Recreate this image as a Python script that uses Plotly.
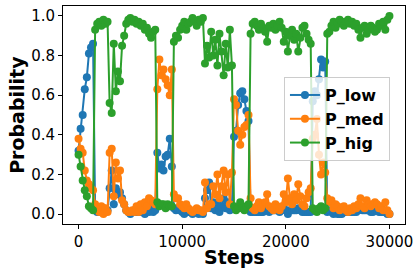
import plotly.graph_objects as go

steps = [200 * i for i in range(151)]

p_low = [
    0.32, 0.43, 0.50, 0.63, 0.69, 0.81, 0.84, 0.86,
    0.02, 0.01, 0.02, 0.01, 0.03, 0.01, 0.02,
    0.13, 0.22, 0.05, 0.13, 0.10, 0.11, 0.08, 0.05, 0.02, 0.01, 0.00,
    0.01, 0.02, 0.01, 0.03, 0.01, 0.02, 0.00, 0.02, 0.01, 0.03, 0.01, 0.02,
    0.31, 0.23, 0.25, 0.22, 0.29, 0.30, 0.38, 0.24,
    0.03, 0.02, 0.03, 0.02, 0.01, 0.00, 0.02, 0.01, 0.01, 0.00, 0.01, 0.02, 0.00, 0.01, 0.00,
    0.08, 0.12, 0.16, 0.03, 0.06, 0.02, 0.05, 0.01, 0.04, 0.08, 0.03, 0.06, 0.02, 0.04,
    0.39, 0.42, 0.55, 0.61, 0.62, 0.58, 0.52, 0.47,
    0.01,
    0.01, 0.01, 0.01, 0.01, 0.01, 0.01, 0.02, 0.03, 0.01, 0.03, 0.02, 0.02, 0.02, 0.01, 0.02,
    0.03, 0.02, 0.00, 0.02, 0.02, 0.02, 0.02, 0.03, 0.02, 0.01, 0.01, 0.01, 0.01, 0.01,
    0.57, 0.62, 0.60, 0.68, 0.78, 0.74, 0.77,
    0.01,
    0.02, 0.01, 0.00, 0.01, 0.00, 0.00, 0.00, 0.01, 0.01, 0.01, 0.01, 0.01, 0.01, 0.01, 0.02,
    0.03, 0.02, 0.02, 0.02, 0.02, 0.01, 0.01, 0.02, 0.02, 0.01, 0.01, 0.01, 0.01, 0.00, 0.00,
]

p_med = [
    0.38, 0.33, 0.31, 0.22, 0.17, 0.15, 0.13, 0.12,
    0.05, 0.03, 0.01, 0.04, 0.00, 0.03, 0.01,
    0.31, 0.33, 0.09, 0.26, 0.18, 0.22, 0.07, 0.05, 0.02, 0.01, 0.01,
    0.02, 0.01, 0.04, 0.01, 0.05, 0.02, 0.06, 0.04, 0.08, 0.07, 0.06, 0.05,
    0.63, 0.78, 0.70, 0.73, 0.68, 0.65, 0.60, 0.73,
    0.10, 0.08, 0.08, 0.05, 0.04, 0.03, 0.05, 0.03, 0.02, 0.01, 0.02, 0.03, 0.02, 0.02, 0.01,
    0.16, 0.03, 0.05, 0.05, 0.14, 0.10, 0.20, 0.08, 0.14, 0.22, 0.11, 0.20, 0.05, 0.21,
    0.58, 0.55, 0.42, 0.35, 0.40, 0.44, 0.45, 0.50,
    0.08,
    0.03, 0.02, 0.04, 0.06, 0.03, 0.05, 0.06, 0.10, 0.04, 0.03, 0.02, 0.05, 0.03, 0.02, 0.04,
    0.10, 0.06, 0.18, 0.08, 0.05, 0.10, 0.07, 0.15, 0.09, 0.05, 0.04, 0.08, 0.11, 0.13,
    0.38, 0.40, 0.48, 0.30, 0.20, 0.26, 0.21,
    0.08,
    0.06, 0.07, 0.03, 0.05, 0.04, 0.02, 0.03, 0.04, 0.02, 0.01, 0.03, 0.02, 0.04, 0.03, 0.05,
    0.08, 0.04, 0.03, 0.07, 0.05, 0.04, 0.05, 0.06, 0.05, 0.03, 0.04, 0.02, 0.06, 0.02, 0.00,
]

p_hig = [
    0.30, 0.24, 0.17, 0.12, 0.09, 0.04, 0.03, 0.02,
    0.93, 0.96, 0.97, 0.95, 0.98, 0.96, 0.97,
    0.56, 0.51, 0.86, 0.62, 0.72, 0.67, 0.85, 0.90, 0.96, 0.98, 0.99,
    0.97, 0.98, 0.96, 0.97, 0.95, 0.96, 0.93, 0.94, 0.91, 0.89, 0.92, 0.93,
    0.06, 0.04, 0.05, 0.05, 0.03, 0.05, 0.04, 0.04,
    0.87, 0.90, 0.89, 0.93, 0.95, 0.97, 0.93, 0.96, 0.97, 0.99, 0.97, 0.95, 0.98, 0.97, 0.99,
    0.76, 0.85, 0.79, 0.92, 0.80, 0.88, 0.75, 0.91, 0.82, 0.70, 0.86, 0.74, 0.93, 0.75,
    0.04, 0.02, 0.03, 0.06, 0.03, 0.02, 0.04, 0.05,
    0.91,
    0.96, 0.97, 0.95, 0.93, 0.96, 0.94, 0.92, 0.87, 0.95, 0.94, 0.96, 0.93, 0.95, 0.97, 0.94,
    0.87, 0.92, 0.82, 0.90, 0.93, 0.88, 0.91, 0.82, 0.89, 0.94, 0.95, 0.91, 0.88, 0.86,
    0.03, 0.02, 0.01, 0.03, 0.04, 0.02, 0.03,
    0.91,
    0.92, 0.95, 0.97, 0.94, 0.96, 0.98, 0.97, 0.95, 0.97, 0.98, 0.96, 0.97, 0.95, 0.96, 0.93,
    0.89, 0.94, 0.95, 0.91, 0.93, 0.95, 0.94, 0.92, 0.93, 0.96, 0.95, 0.97, 0.93, 0.98, 1.00,
]

x_title = "Steps"
y_title = "Probability"

series = [("P_low", p_low, "#1f77b4"), ("P_med", p_med, "#ff7f0e"), ("P_hig", p_hig, "#2ca02c")]

fig = go.Figure()
for name, vals, color in series:
    fig.add_trace(go.Scatter(
        x=steps, y=vals, name="<b>" + name + "</b>", mode="lines+markers",
        line=dict(color=color, width=2),
        marker=dict(color=color, size=8),
    ))

axis_common = dict(
    showline=True, linecolor="black", linewidth=1, mirror=True,
    ticks="outside", ticklen=4, tickcolor="black", tickwidth=1,
    showgrid=False, zeroline=False, automargin=False,
    tickfont=dict(family="DejaVu Sans", size=15, color="black"),
)

fig.update_layout(
    width=415, height=276,
    margin=dict(l=63, r=10, t=6, b=52),
    paper_bgcolor="white", plot_bgcolor="white",
    font=dict(family="DejaVu Sans", color="black"),
    xaxis=dict(range=[-1500, 31500], tickvals=[0, 10000, 20000, 30000], tickformat="d",
               **axis_common),
    yaxis=dict(range=[-0.05, 1.05], tickvals=[0, 0.2, 0.4, 0.6, 0.8, 1.0], tickformat=".1f",
               **axis_common),
    legend=dict(x=0.956, y=0.674, xanchor="right", yanchor="top",
                bgcolor="rgba(255,255,255,0.8)", bordercolor="#cccccc", borderwidth=1,
                font=dict(family="DejaVu Sans", size=16, color="black"),
                itemwidth=30, tracegroupgap=0),
    showlegend=True,
    annotations=[
        dict(text="<b>" + x_title + "</b>", xref="paper", yref="paper", x=0.5, y=-0.153,
             xanchor="center", yanchor="middle", showarrow=False,
             font=dict(family="DejaVu Sans", size=19, color="black")),
        dict(text="<b>" + y_title + "</b>", xref="paper", yref="paper", x=-0.135, y=0.5,
             xanchor="center", yanchor="middle", textangle=-90, showarrow=False,
             font=dict(family="DejaVu Sans", size=19, color="black")),
    ],
)

fig.write_html("out.html", config={"displayModeBar": False},
               post_script="document.body.style.margin='0';")
